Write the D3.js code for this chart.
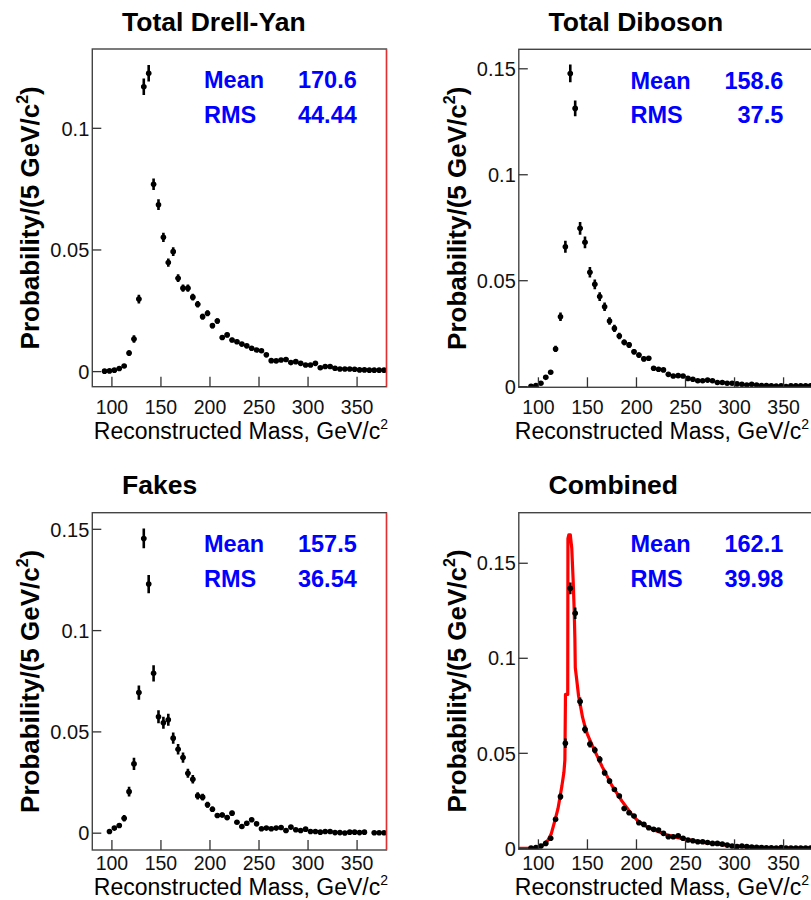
<!DOCTYPE html>
<html><head><meta charset="utf-8">
<script src="https://cdn.jsdelivr.net/npm/d3@7"></script>
<style>
body{margin:0;background:#fff}
svg{display:block}
text{font-family:"Liberation Sans",Arial,Helvetica,sans-serif}
</style>
</head><body>
<svg id="chart" width="811" height="900"></svg>
<script>
// ---------------- data ----------------
const binCenters = [92.5,97.5,102.5,107.5,112.5,117.5,122.5,127.5,132.5,137.5,142.5,147.5,152.5,157.5,162.5,167.5,172.5,177.5,182.5,187.5,192.5,197.5,202.5,207.5,212.5,217.5,222.5,227.5,232.5,237.5,242.5,247.5,252.5,257.5,262.5,267.5,272.5,277.5,282.5,287.5,292.5,297.5,302.5,307.5,312.5,317.5,322.5,327.5,332.5,337.5,342.5,347.5,352.5,357.5,362.5,367.5,372.5,377.5];
const binWidth = 5;

const drellYanValues = [0.0002,0.0003,0.0006,0.0013,0.0023,0.0076,0.0134,0.0298,0.1171,0.1226,
 0.0770,0.0686,0.0552,0.0448,0.0493,0.0384,0.0343,0.0343,0.0306,0.0277,
 0.0226,0.0240,0.0189,0.0208,0.0140,0.0151,0.0130,0.0123,0.0113,0.0106,
 0.0096,0.0089,0.0086,0.0069,0.0045,0.0044,0.0048,0.0050,0.0037,0.0041,
 0.0034,0.0027,0.0027,0.0034,0.0016,0.0021,0.0021,0.0014,0.0011,0.0011,
 0.0011,0.0010,0.0007,0.0007,0.0006,0.0006,0.0006,0.0006];
const drellYanErrors = [0.0003,0.0003,0.0004,0.0006,0.0008,0.0012,0.0015,0.0018,0.0034,0.0034,
 0.0024,0.0022,0.0019,0.0017,0.0018,0.0016,0.0015,0.0015,0.0014,0.0013,
 0.0012,0.0012,0.0011,0.0011,0.0009,0.0010,0.0009,0.0009,0.0008,0.0008,
 0.0008,0.0007,0.0007,0.0007,0.0006,0.0006,0.0006,0.0006,0.0005,0.0005,
 0.0005,0.0004,0.0004,0.0005,0.0004,0.0004,0.0004,0.0003,0.0003,0.0003,
 0.0003,0.0003,0.0002,0.0002,0.0002,0.0002,0.0002,0.0002];

const dibosonValues = [0.0002,0.0005,0.0016,0.0044,0.0068,0.0178,0.0330,0.0660,0.1478,0.1313,
 0.0747,0.0681,0.0540,0.0483,0.0425,0.0377,0.0310,0.0275,0.0239,0.0209,
 0.0197,0.0165,0.0149,0.0131,0.0134,0.0087,0.0082,0.0079,0.0058,0.0050,
 0.0052,0.0050,0.0039,0.0035,0.0028,0.0028,0.0031,0.0028,0.0020,0.0020,
 0.0016,0.0016,0.0013,0.0011,0.0008,0.0011,0.0008,0.0005,0.0005,0.0004,
 0.0003,0.0004,0.0001,0.0004,0.0004,0.0004,0.0004,0.0004];
const dibosonErrors = [0.0002,0.0003,0.0005,0.0008,0.0010,0.0015,0.0020,0.0028,0.0042,0.0037,
 0.0030,0.0028,0.0025,0.0023,0.0021,0.0020,0.0018,0.0017,0.0015,0.0014,
 0.0014,0.0013,0.0012,0.0011,0.0011,0.0009,0.0009,0.0009,0.0008,0.0007,
 0.0007,0.0007,0.0006,0.0006,0.0005,0.0005,0.0005,0.0005,0.0004,0.0004,
 0.0004,0.0004,0.0003,0.0003,0.0003,0.0003,0.0003,0.0002,0.0002,0.0002,
 0.0002,0.0002,0.0001,0.0002,0.0002,0.0002,0.0002,0.0002];

const fakesValues = [null,0.0008,0.0025,0.0038,0.0074,0.0205,0.0342,0.0694,0.1455,0.1230,
 0.0789,0.0575,0.0545,0.0560,0.0469,0.0414,0.0373,0.0296,0.0266,0.0184,
 0.0178,0.0140,0.0118,0.0087,0.0090,0.0077,0.0099,0.0054,0.0033,0.0049,
 0.0066,0.0046,0.0022,0.0025,0.0022,0.0025,0.0028,0.0013,0.0030,0.0017,
 0.0013,0.0020,0.0008,0.0008,0.0005,0.0008,0.0008,0.0003,0.0003,0.0001,
 0.0005,0.0005,0.0003,0.0005,null,0.0002,0.0002,0.0002];
const fakesErrors = [0,0.0006,0.0010,0.0012,0.0016,0.0024,0.0030,0.0035,0.0049,0.0045,
 0.0040,0.0032,0.0030,0.0030,0.0028,0.0026,0.0025,0.0022,0.0021,0.0018,
 0.0017,0.0015,0.0014,0.0012,0.0012,0.0011,0.0012,0.0009,0.0007,0.0009,
 0.0010,0.0008,0.0006,0.0006,0.0006,0.0006,0.0007,0.0005,0.0007,0.0005,
 0.0005,0.0006,0.0004,0.0004,0.0003,0.0004,0.0004,0.0002,0.0002,0.0001,
 0.0003,0.0003,0.0002,0.0003,0,0.0002,0.0002,0.0002];

const combinedValues = [0.0001,0.0004,0.0012,0.0026,0.0053,0.0153,0.0272,0.0553,0.1368,0.1237,
 0.0772,0.0626,0.0549,0.0517,0.0468,0.0398,0.0354,0.0310,0.0275,0.0210,
 0.0187,0.0170,0.0135,0.0126,0.0108,0.0100,0.0096,0.0079,0.0061,0.0061,
 0.0066,0.0053,0.0044,0.0040,0.0035,0.0035,0.0031,0.0026,0.0026,0.0022,
 0.0017,0.0012,0.0009,0.0012,0.0009,0.0007,0.0005,0.0004,0.0003,0.0003,
 0.0002,0.0004,0.0002,0.0002,0.0002,0.0002,0.0002,0.0002];
const combinedErrors = [0.0001,0.0002,0.0004,0.0006,0.0008,0.0012,0.0016,0.0025,0.0031,0.0030,
 0.0022,0.0020,0.0018,0.0017,0.0016,0.0015,0.0014,0.0013,0.0012,0.0011,
 0.0010,0.0010,0.0009,0.0008,0.0008,0.0007,0.0007,0.0006,0.0006,0.0006,
 0.0006,0.0005,0.0005,0.0004,0.0004,0.0004,0.0004,0.0004,0.0004,0.0003,
 0.0003,0.0003,0.0002,0.0003,0.0002,0.0002,0.0002,0.0002,0.0001,0.0001,
 0.0001,0.0002,0.0001,0.0001,0.0001,0.0001,0.0001,0.0001];

// red template curve on the "Combined" panel
const combinedCurveX = [80,95,100,105,110,113,117,120,122,124,126,127,127.6,129.9,130.1,131,132.5,134,135.5,136.5,137.2,137.6,139,141,142.5,145,147.5,150,152.5,155,160,165,170,175,180,185,190,195,200,205,210,220,230,240,250,260,270,280,290,300,310,320,330,340,350,360,380];
const combinedCurveY = [0,0.0001,0.0005,0.0018,0.0045,0.0075,0.015,0.021,0.027,0.033,0.040,0.0465,0.081,0.081,0.163,0.165,0.165,0.158,0.14,0.125,0.11,0.095,0.089,0.080,0.076,0.069,0.064,0.060,0.057,0.054,0.0485,0.043,0.038,0.033,0.029,0.025,0.0215,0.018,0.0152,0.0132,0.0115,0.0092,0.0073,0.0059,0.0047,0.0038,0.003,0.0024,0.0018,0.0012,0.0009,0.0007,0.0005,0.0003,0.0002,0.0001,0];

const panelTitles = ["Total Drell-Yan","Total Diboson","Fakes","Combined"];
const statMeans = ["170.6","158.6","157.5","162.1"];
const statRMS = ["44.44","37.5","36.54","39.98"];
const xTicks = [100,150,200,250,300,350];
const yTicksSmall = [0,0.05,0.1];
const yTicksLarge = [0,0.05,0.1,0.15];
const yTickLabels = {0:"0",0.05:"0.05",0.1:"0.1",0.15:"0.15"};
const xDomain = [80,380];

// ---------------- layout ----------------
const panels = [
  {title:panelTitles[0], values:drellYanValues, errors:drellYanErrors, mean:statMeans[0], rms:statRMS[0],
   x0:92.3, x1:386.5, y0:49, y1:386.7, yDom:[-0.0062,0.1326], yTicks:yTicksSmall, redRight:true, lblY:414, ttlY:439},
  {title:panelTitles[1], values:dibosonValues, errors:dibosonErrors, mean:statMeans[1], rms:statRMS[1],
   x0:518.8, x1:813, y0:49.3, y1:387.3, yDom:[-0.0003,0.1592], yTicks:yTicksLarge, redRight:false, lblY:414, ttlY:439},
  {title:panelTitles[2], values:fakesValues, errors:fakesErrors, mean:statMeans[2], rms:statRMS[2],
   x0:92.3, x1:386.5, y0:512.7, y1:850, yDom:[-0.0083,0.1582], yTicks:yTicksLarge, redRight:true, lblY:870, ttlY:895},
  {title:panelTitles[3], values:combinedValues, errors:combinedErrors, mean:statMeans[3], rms:statRMS[3],
   x0:518.8, x1:813, y0:512.7, y1:849.3, yDom:[-0.0005,0.1766], yTicks:yTicksLarge, redRight:false, curve:true, lblY:870, ttlY:895}
];

const svg = d3.select("#chart");
svg.append("rect").attr("width",811).attr("height",900).attr("fill","#fff");

panels.forEach((p,i)=>{
  const g = svg.append("g");
  const x = d3.scaleLinear().domain(xDomain).range([p.x0,p.x1]);
  const y = d3.scaleLinear().domain(p.yDom).range([p.y1,p.y0]);

  const clipId = "clip"+i;
  svg.append("clipPath").attr("id",clipId).append("rect")
    .attr("x",p.x0).attr("y",p.y0).attr("width",p.x1-p.x0).attr("height",p.y1-p.y0);

  // red curve
  if(p.curve){
    const pts = combinedCurveX.map((v,k)=>[v,combinedCurveY[k]]);
    g.append("path").attr("clip-path",`url(#${clipId})`)
      .attr("d",d3.line().x(d=>x(d[0])).y(d=>y(d[1]))(pts))
      .attr("fill","none").attr("stroke","#ff0000").attr("stroke-width",3.2)
      .attr("stroke-linejoin","round");
  }

  // data points with error bars
  const data = binCenters.map((c,k)=>({c, v:p.values[k], e:p.errors[k]})).filter(d=>d.v!==null);
  const pg = g.append("g").attr("clip-path",`url(#${clipId})`);
  pg.selectAll("line.h").data(data).join("line").attr("class","h")
    .attr("x1",d=>x(d.c-binWidth/2)).attr("x2",d=>x(d.c+binWidth/2))
    .attr("y1",d=>y(d.v)).attr("y2",d=>y(d.v))
    .attr("stroke","#000").attr("stroke-width",2.2);
  pg.selectAll("line.v").data(data).join("line").attr("class","v")
    .attr("x1",d=>x(d.c)).attr("x2",d=>x(d.c))
    .attr("y1",d=>y(d.v+d.e)).attr("y2",d=>y(d.v-d.e))
    .attr("stroke","#000").attr("stroke-width",2.6);
  pg.selectAll("circle").data(data).join("circle")
    .attr("cx",d=>x(d.c)).attr("cy",d=>y(d.v)).attr("r",2.8).attr("fill","#000");

  // frame
  g.append("rect").attr("x",p.x0).attr("y",p.y0).attr("width",p.x1-p.x0).attr("height",p.y1-p.y0)
    .attr("fill","none").attr("stroke","#444").attr("stroke-width",1.4);
  if(p.redRight){
    g.append("line").attr("x1",p.x1).attr("x2",p.x1).attr("y1",p.y0).attr("y2",p.y1)
      .attr("stroke","#e03030").attr("stroke-width",1.2);
  }

  // x ticks (inward) and labels
  xTicks.forEach(t=>{
    g.append("line").attr("x1",x(t)).attr("x2",x(t)).attr("y1",p.y1).attr("y2",p.y1-10)
      .attr("stroke","#333").attr("stroke-width",1.3);
    g.append("text").attr("x",x(t)).attr("y",p.lblY)
      .attr("text-anchor","middle").attr("font-size",19.5).attr("fill","#111").text(t);
  });
  // y ticks (inward) and labels
  p.yTicks.forEach(t=>{
    g.append("line").attr("x1",p.x0).attr("x2",p.x0+9).attr("y1",y(t)).attr("y2",y(t))
      .attr("stroke","#333").attr("stroke-width",1.3);
    g.append("text").attr("x",p.x0-3).attr("y",y(t))
      .attr("dy","0.36em").attr("text-anchor","end")
      .attr("font-size",20).attr("fill","#111").text(yTickLabels[t]);
  });

  // title
  g.append("text").attr("x",p.x0+29.7).attr("y",p.y0-18.5)
    .attr("font-size",26.5).attr("font-weight","bold").attr("fill","#000").text(p.title);

  // axis titles (kept inside the 811 px canvas)
  const xt = g.append("text").attr("x",Math.min(p.x1+1.5,809)).attr("y",p.ttlY)
    .attr("text-anchor","end").attr("font-size",23).attr("fill","#000");
  xt.append("tspan").text("Reconstructed Mass, GeV/c");
  xt.append("tspan").attr("font-size",14).attr("dy",-10).text("2");

  const cy = (p.y0+p.y1)/2;
  const yt = g.append("text").attr("transform",`translate(${p.x0-53},${cy}) rotate(-90)`)
    .attr("text-anchor","middle").attr("font-size",26).attr("font-weight","bold").attr("fill","#000");
  yt.append("tspan").text("Probability/(5 GeV/c");
  yt.append("tspan").attr("font-size",16).attr("dy",-11).text("2");
  yt.append("tspan").attr("dy",11).text(")");

  // stats box text
  const sc = "#0000ff";
  g.append("text").attr("x",p.x0+111.7).attr("y",p.y0+39.3).attr("font-size",23.5)
    .attr("font-weight","bold").attr("fill",sc).text("Mean");
  g.append("text").attr("x",p.x0+264.5).attr("y",p.y0+39.3).attr("font-size",23.5).attr("text-anchor","end")
    .attr("font-weight","bold").attr("fill",sc).text(p.mean);
  g.append("text").attr("x",p.x0+111.7).attr("y",p.y0+74).attr("font-size",23.5)
    .attr("font-weight","bold").attr("fill",sc).text("RMS");
  g.append("text").attr("x",p.x0+264.5).attr("y",p.y0+74).attr("font-size",23.5).attr("text-anchor","end")
    .attr("font-weight","bold").attr("fill",sc).text(p.rms);
});
</script>
</body></html>
